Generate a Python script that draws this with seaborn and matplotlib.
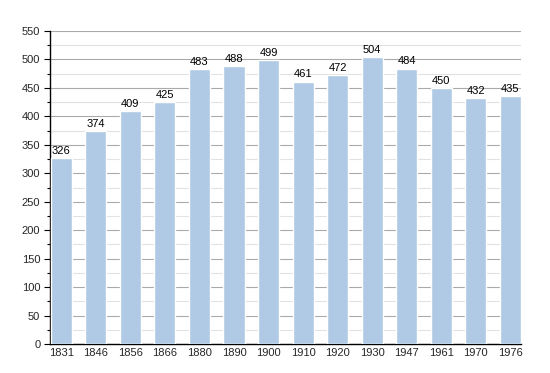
import matplotlib
matplotlib.use("Agg")
import matplotlib.pyplot as plt
import seaborn as sns
import pandas as pd
from matplotlib.ticker import MultipleLocator

years = ["1831", "1846", "1856", "1866", "1880", "1890", "1900", "1910", "1920", "1930", "1947", "1961", "1970", "1976"]
population = [326, 374, 409, 425, 483, 488, 499, 461, 472, 504, 484, 450, 432, 435]

df = pd.DataFrame({"year": years, "pop": population})

sns.set_style("white")
plt.rcParams['font.family'] = ['Liberation Sans', 'DejaVu Sans']

fig = plt.figure(figsize=(5.5, 3.73), dpi=100)
ax = fig.add_axes([50/550, 29/373, 471/550, 313/373])

bw = 0.61
sns.barplot(data=df, x="year", y="pop", color="#b0c9e4", saturation=1, width=bw, ax=ax, zorder=3)

ax.set_ylim(0, 550)
ax.set_xlim(-bw/2 - 0.02, len(years) - 1 + bw/2)
ax.yaxis.set_major_locator(MultipleLocator(50))
ax.yaxis.set_minor_locator(MultipleLocator(25))
ax.grid(axis="y", which="major", color="#aaaaaa", linewidth=0.8, zorder=0)
ax.grid(axis="y", which="minor", color="#e2e2e2", linewidth=0.8, zorder=0)
ax.set_axisbelow(True)

for s in ["top", "right"]:
    ax.spines[s].set_visible(False)
ax.spines["left"].set_color("black")
ax.spines["bottom"].set_color("black")
ax.spines["left"].set_linewidth(1)
ax.spines["bottom"].set_linewidth(1)

ax.tick_params(axis="y", which="major", length=4, width=0.8, color="black", labelsize=8, direction="out", left=True, pad=3)
ax.tick_params(axis="y", which="minor", length=2, width=0.8, color="black", left=True)
ax.tick_params(axis="x", length=0, labelsize=8, pad=3)

ax.set_xlabel("")
ax.set_ylabel("")

for i, v in enumerate(population):
    ax.text(i, v + 4, str(v), ha="center", va="bottom", fontsize=8, color="black", zorder=4)

fig.savefig("out.png", dpi=100)
